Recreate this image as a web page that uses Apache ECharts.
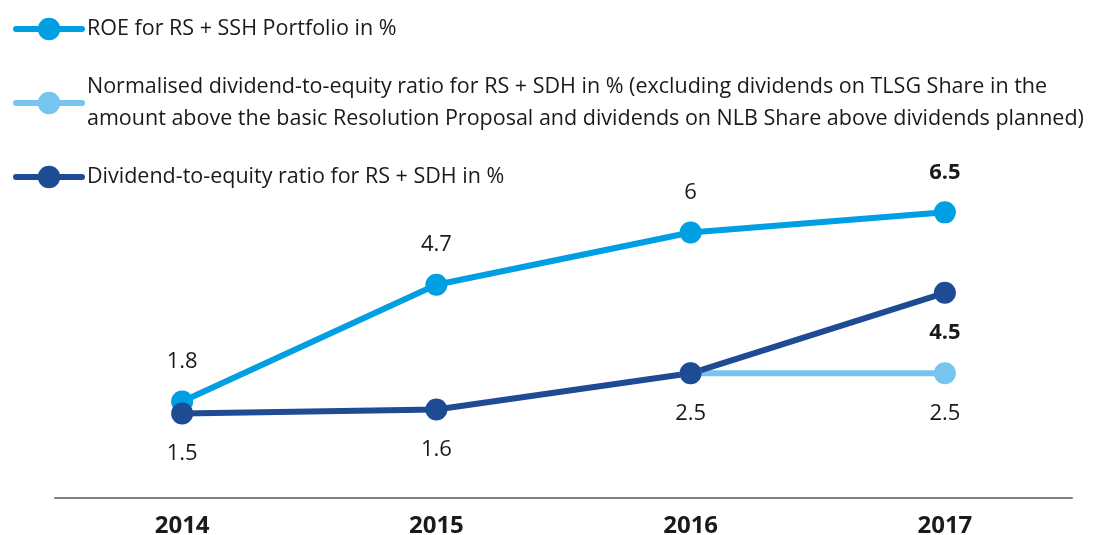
<!DOCTYPE html>
<html>
<head>
<meta charset="utf-8">
<script src="https://cdn.jsdelivr.net/npm/echarts@6/dist/echarts.min.js"></script>
<style>
  html, body { margin: 0; padding: 0; background: #fff; }
  #chart { width: 1097px; height: 535px; }
</style>
</head>
<body>
<div id="chart"></div>
<script>
var years = ['2014', '2015', '2016', '2017'];
var roe = [1.8, 4.7, 6, 6.5];
var normalised = [null, null, 2.5, 2.5];
var dividend = [1.5, 1.6, 2.5, 4.5];

var nameRoe = 'ROE for RS + SSH Portfolio in %';
var nameNorm = 'Normalised dividend-to-equity ratio for RS + SDH in % (excluding dividends on TLSG Share in the amount above the basic Resolution Proposal and dividends on NLB Share above dividends planned)';
var nameDiv = 'Dividend-to-equity ratio for RS + SDH in %';

var font = '"Open Sans", "Noto Sans", sans-serif';

// which labels sit above / below, which are bold
function lbl(pos, bold, show) {
  return {
    show: show !== false,
    position: pos,
    distance: 18,
    fontSize: 22,
    fontFamily: font,
    fontWeight: bold ? 'bold' : 'normal',
    color: '#1a1a1a'
  };
}

function pts(arr, pos, boldIdx, hideIdx) {
  return arr.map(function (v, i) {
    return { value: v, label: lbl(pos, i === boldIdx, i !== hideIdx) };
  });
}

var myChart = echarts.init(document.getElementById('chart'));
myChart.setOption({
  animation: false,
  grid: { left: 55, right: 25, top: 152, bottom: 37, outerBoundsMode: 'none' },
  legend: {
    orient: 'vertical',
    left: 8,
    top: 8,
    itemWidth: 66,
    itemHeight: 28,
    itemGap: 26,
    data: [nameRoe, nameNorm, nameDiv],
    lineStyle: { width: 6, cap: 'round' },
    formatter: function (name) {
      if (name === nameNorm) {
        return 'Normalised dividend-to-equity ratio for RS + SDH in % (excluding dividends on TLSG Share in the\namount above the basic Resolution Proposal and dividends on NLB Share above dividends planned)';
      }
      return name;
    },
    textStyle: { fontSize: 21.5, fontFamily: font, color: '#1a1a1a', lineHeight: 32 }
  },
  xAxis: {
    type: 'category',
    data: years,
    axisLine: { onZero: false, lineStyle: { color: '#7f7f7f', width: 2 } },
    axisTick: { show: false },
    axisLabel: { fontSize: 24, fontWeight: 'bold', fontFamily: font, color: '#1a1a1a', margin: 16 }
  },
  yAxis: {
    type: 'value',
    min: -0.6,
    max: 8,
    show: false,
    splitLine: { show: false }
  },
  series: [
    {
      name: nameRoe,
      type: 'line',
      data: pts(roe, 'top', 3),
      symbol: 'circle',
      symbolSize: 22,
      lineStyle: { width: 6, color: '#009fe3' },
      itemStyle: { color: '#009fe3' }
    },
    {
      name: nameNorm,
      type: 'line',
      data: pts(normalised, 'bottom', -1, 2),
      symbol: 'circle',
      symbolSize: 22,
      lineStyle: { width: 6, color: '#76c5ef' },
      itemStyle: { color: '#76c5ef' }
    },
    {
      name: nameDiv,
      type: 'line',
      data: pts(dividend, 'bottom', 3),
      symbol: 'circle',
      symbolSize: 22,
      lineStyle: { width: 6, color: '#1f4a94' },
      itemStyle: { color: '#1f4a94' }
    }
  ]
});
</script>
</body>
</html>
